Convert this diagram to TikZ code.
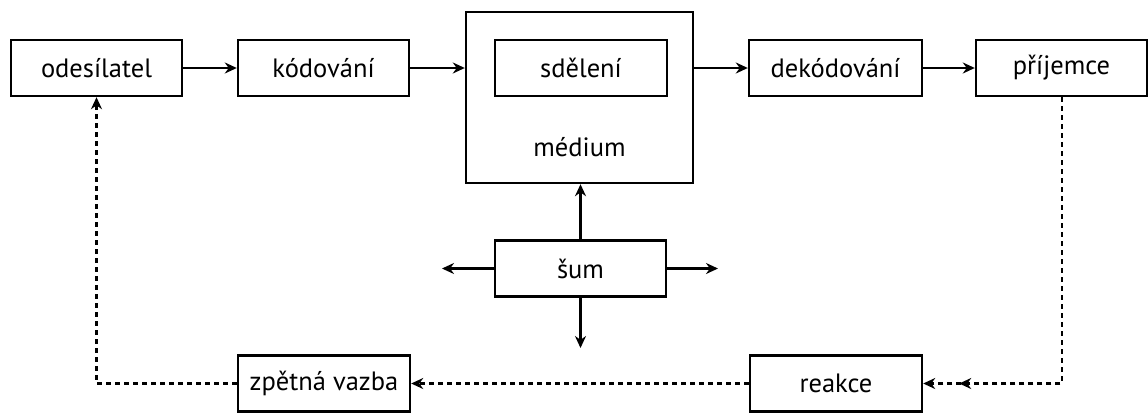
\documentclass[tikz,border=0pt]{standalone}
\usepackage{fontspec}
\setmainfont{PT Sans}
\usetikzlibrary{arrows.meta,decorations.markings}
\begin{document}
\begin{tikzpicture}[x=1pt,y=-1pt,
  box/.style={draw, line width=2.4pt, minimum width=171pt, minimum height=56pt, inner sep=0pt, font=\fontsize{26.5}{30}\selectfont},
  con/.style={line width=2.2pt, -{Stealth[length=12pt,width=11pt]}},
  fb/.style={line width=2.2pt, dash pattern=on 5pt off 4pt, -{Stealth[length=12pt,width=11pt]}}]
\useasboundingbox (0,0) rectangle (1148,413);
\node[box] (odes) at (96.5,68) {odesílatel};
\node[box] (kod) at (323.5,68) {kódování};
\node[box, minimum width=227pt, minimum height=171pt] (med) at (579.5,97.5) {};
\node[box, minimum width=172pt] (sdel) at (581,68) {sdělení};
\node[font=\fontsize{26.5}{30}\selectfont] (medl) at (579.5,147) {médium};
\node[box, minimum width=173pt] (dek) at (835.5,68) {dekódování};
\node[box] (prij) at (1061.5,68) {příjemce};
\node[box] (sum) at (580.5,268.5) {šum};
\node[box, minimum width=172pt] (zpet) at (324,383.5) {zpětná vazba};
\node[box, minimum width=172pt] (reak) at (836,383.5) {reakce};
\coordinate (sl) at (442,268.5);
\coordinate (sr) at (718,268.5);
\coordinate (sd) at (580.5,348);
\coordinate (pc) at (1062,383.5);
\draw[con] (odes) -- (kod);
\draw[con] (kod) -- (med.west |- kod.east);
\draw[con] (med.east |- dek.west) -- (dek);
\draw[con] (dek) -- (prij);
\draw[con] (sum.north) -- (med.south -| sum.north);
\draw[con] (sum.west) -- (sl);
\draw[con] (sum.east) -- (sr);
\draw[con] (sum.south) -- (sd);
\draw[fb, postaction={decorate}, decoration={markings, mark=at position -36pt with {\arrow{Stealth[length=12pt,width=11pt]}}}] (prij.south -| pc) -- (pc) -- (reak.east);
\draw[fb] (reak) -- (zpet);
\draw[fb] (zpet.west) -| (odes.south);
\end{tikzpicture}
\end{document}
